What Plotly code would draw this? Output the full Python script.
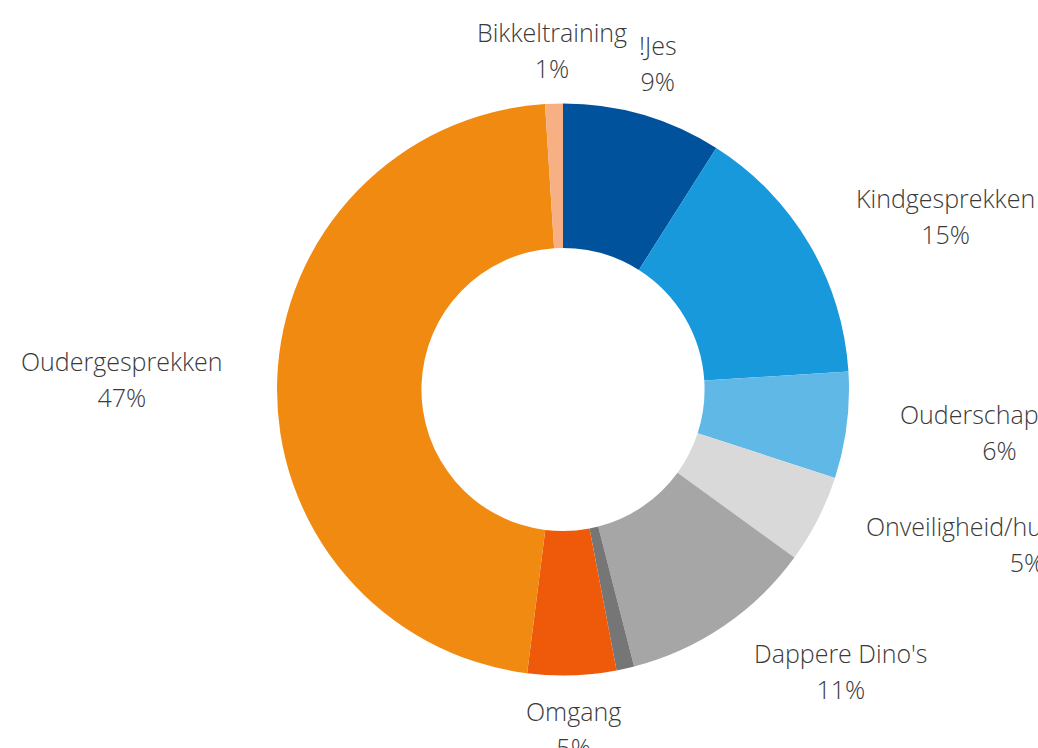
import math
import plotly.graph_objects as go

# ---- data ----
categories = ["!Jes", "Kindgesprekken", "Ouderschapsplan", "Onveiligheid/huiselijk geweld",
              "Dappere Dino's", "Overig", "Omgang", "Oudergesprekken", "Bikkeltraining"]
values = [9, 15, 6, 5, 11, 1, 5, 47, 1]
colors = ["#00529C", "#1899DC", "#5FB8E6", "#D9D9D9", "#A6A6A6",
          "#767676", "#EE5A0A", "#F18A11", "#F6B084"]
show_label = [True, True, True, True, True, False, True, True, True]

# ---- layout constants (pixels) ----
W, H = 1038, 748
CX, CY = 563, 389.5      # pie centre
R = 286                  # outer radius
HOLE = 0.495
LABEL_R = 340            # distance of label anchor from centre
TEXT_COLOR = "#3A3A3A"
FONT = "Open Sans"
LINE_FS = 36 / 1.3       # sets line spacing
TEXT_FS = 25

fig = go.Figure()
fig.add_trace(go.Pie(
    labels=categories, values=values, sort=False, direction="clockwise", rotation=0,
    hole=HOLE, marker=dict(colors=colors, line=dict(width=0)),
    textinfo="none", hoverinfo="label+percent", showlegend=False,
    domain=dict(x=[(CX - R) / W, (CX + R) / W], y=[1 - (CY + R) / H, 1 - (CY - R) / H]),
))

total = sum(values)
cum = 0.0
annotations = []
for name, v, show in zip(categories, values, show_label):
    mid = (cum + v / 2) / total * 2 * math.pi
    cum += v
    if not show:
        continue
    s, c = math.sin(mid), math.cos(mid)
    px = CX + LABEL_R * s
    py = CY - LABEL_R * c
    if abs(s) < 0.5:
        xa = "center"
    elif s > 0:
        xa = "left"
    else:
        xa = "right"
    pct = f"{round(v / total * 100):d}%"
    span = f"<span style='font-size:{TEXT_FS}px'>"
    text = f"{span}{name}</span><br>{span}{pct}</span>"
    annotations.append(dict(
        x=px / W, y=1 - py / H, xref="paper", yref="paper",
        xanchor=xa, yanchor="middle", align="center", showarrow=False,
        borderpad=0, borderwidth=0,
        text=text, font=dict(family=FONT, size=LINE_FS, color=TEXT_COLOR, weight=300),
    ))

fig.update_layout(
    width=W, height=H, margin=dict(l=0, r=0, t=0, b=0),
    paper_bgcolor="white", plot_bgcolor="white",
    annotations=annotations,
    font=dict(family=FONT, color=TEXT_COLOR),
)

fig.write_html("out.html", config={"displayModeBar": False},
               post_script="document.body.style.margin='0px';")
